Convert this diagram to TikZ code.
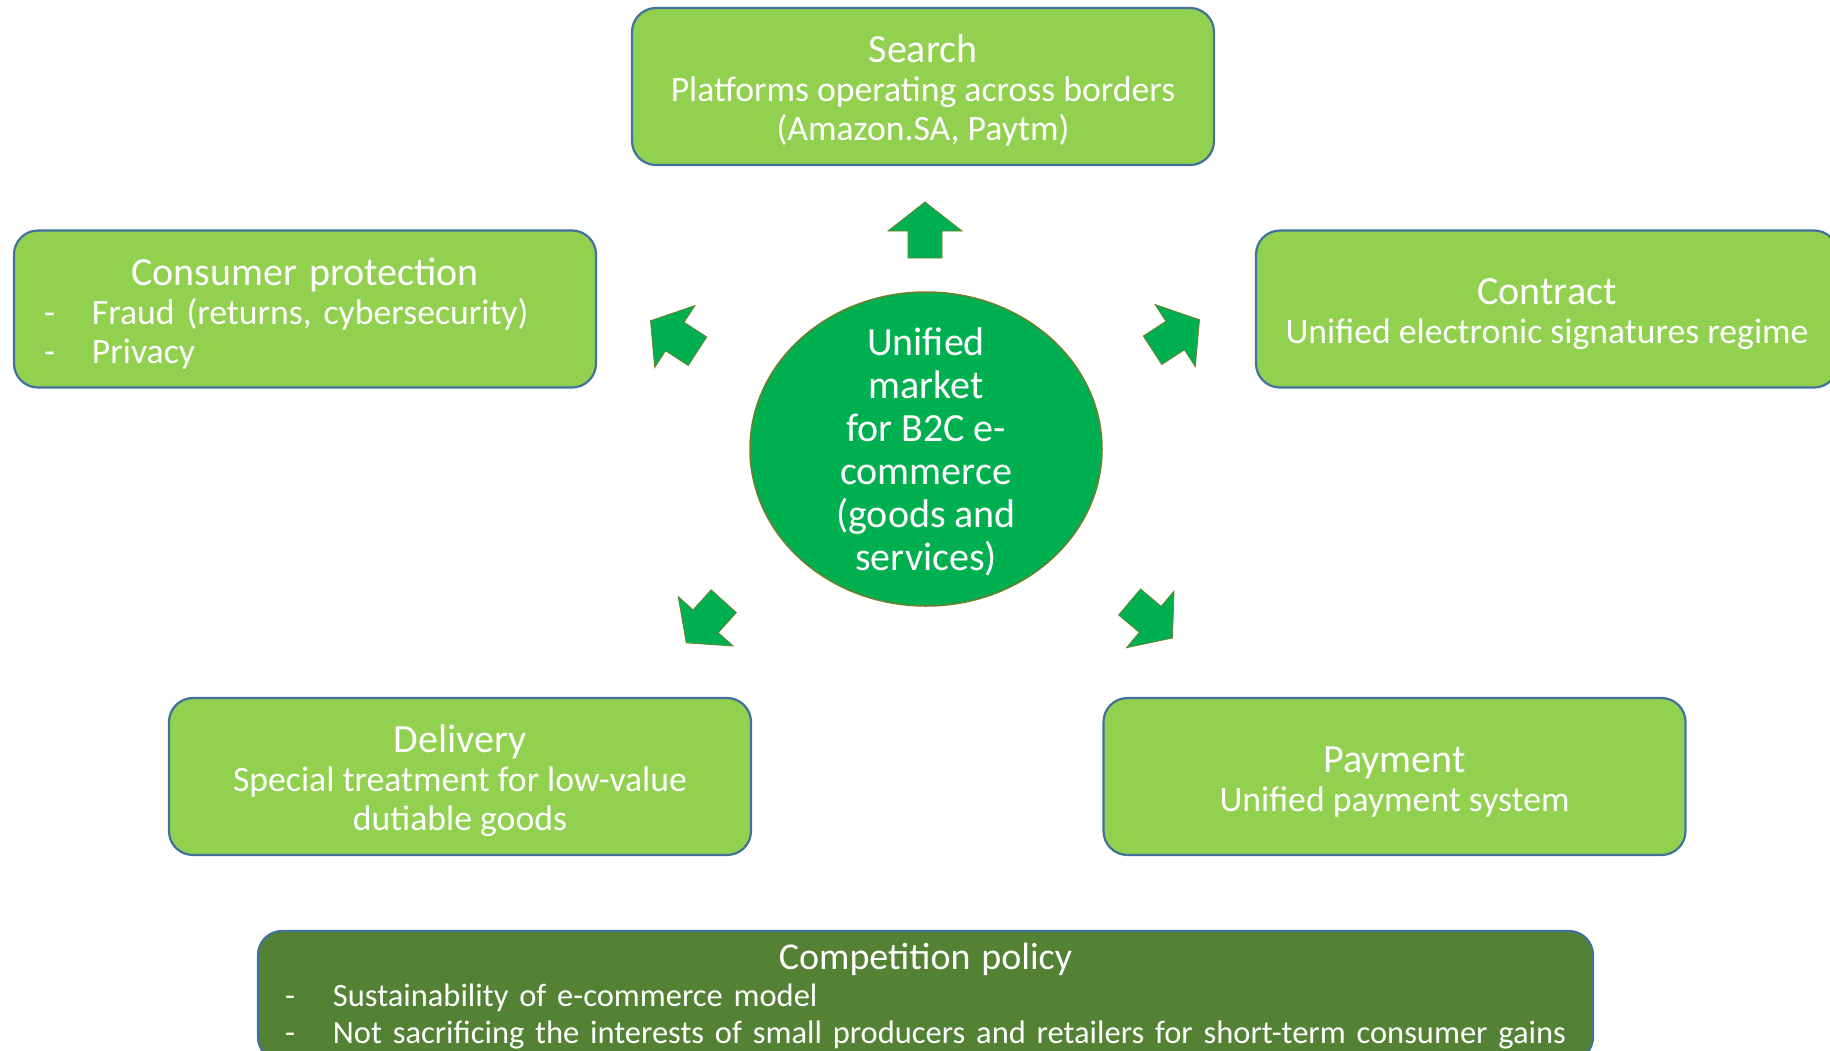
\documentclass[tikz,border=0pt]{standalone}
\usepackage{fontspec}
\setmainfont{Carlito}
\usetikzlibrary{shapes.geometric}
\definecolor{boxgreen}{HTML}{92D050}
\definecolor{darkgreen}{HTML}{548235}
\definecolor{hubgreen}{HTML}{00B050}
\definecolor{boxedge}{HTML}{41719C}
\definecolor{hubedge}{HTML}{6E7F2E}
% heading line of a topic box; the strut sets the gap above it
\newcommand{\topichead}[1]{{\fontsize{40}{39}\selectfont\rule{0pt}{36pt}#1}}
\newcommand{\dashitem}[2]{\hspace*{#1}\makebox[48pt][l]{-}#2}
\begin{document}
\begin{tikzpicture}[x=1pt,y=-1pt,
  topic/.style={draw=boxedge, line width=2.2pt, fill=boxgreen,
    rounded corners=24pt, minimum width=582pt, minimum height=157pt,
    inner sep=0pt, text=white, align=center,
    font=\fontsize{35.7}{39}\selectfont},
  hub/.style={ellipse, draw=hubedge, line width=1.5pt, fill=hubgreen,
    minimum width=352pt, minimum height=314pt, inner sep=0pt},
  hubtext/.style={text=white, align=center, inner sep=0pt,
    font=\fontsize{40}{43}\selectfont},
  blockarrow/.pic={
    \filldraw[fill=hubgreen, draw=hubedge, line width=0.8pt]
      (-28,17) -- (-1,17) -- (-1,37) -- (28,0) -- (-1,-37)
      -- (-1,-17) -- (-28,-17) -- cycle;
  }]
  \clip (0,0) rectangle (1830,1050);
  \fill[white] (0,0) rectangle (1830,1050);

  % central hub
  \node[hub] (hub) at (926,449) {};
  \node[hubtext, yshift=-3pt] (hublabel) at (hub.center)
    {Unified\\market\\for B2C e-\\commerce\\(goods and\\services)};

  % surrounding topics
  \node[topic] (search) at (923,86.5)
    {\topichead{Search}\\Platforms operating across borders\\(Amazon.SA, Paytm)};
  \node[topic, text width=582pt, align=left] (consumer) at (305,309)
    {\makebox[\linewidth][c]{\topichead{Consumer protection}}\\
     \dashitem{30pt}{Fraud (returns, cybersecurity)}\\
     \dashitem{30pt}{Privacy}};
  \node[topic] (contract) at (1547,309)
    {\topichead{Contract}\\Unified electronic signatures regime};
  \node[topic] (delivery) at (460,776.5)
    {\topichead{Delivery}\\Special treatment for low-value\\dutiable goods};
  \node[topic] (payment) at (1394.5,776.5)
    {\topichead{Payment}\\Unified payment system};
  \node[topic, fill=darkgreen, minimum width=1335pt, text width=1335pt,
        minimum height=130pt, align=left, font=\fontsize{32.5}{37}\selectfont]
    (competition) at (925.5,996)
    {\makebox[\linewidth][c]{\fontsize{38}{37}\selectfont Competition policy}\\
     \dashitem{27pt}{Sustainability of e-commerce model}\\
     \dashitem{27pt}{Not sacrificing the interests of small producers and retailers for short-term consumer gains}};

  % block arrows radiating from the hub
  \pic[rotate=90]  at (925,230)  {blockarrow};
  \pic[rotate=147] at (674,336)  {blockarrow};
  \pic[rotate=33]  at (1176,335) {blockarrow};
  \pic[rotate=228] at (705,622)  {blockarrow};
  \pic[rotate=-40] at (1151,620) {blockarrow};
\end{tikzpicture}
\end{document}
